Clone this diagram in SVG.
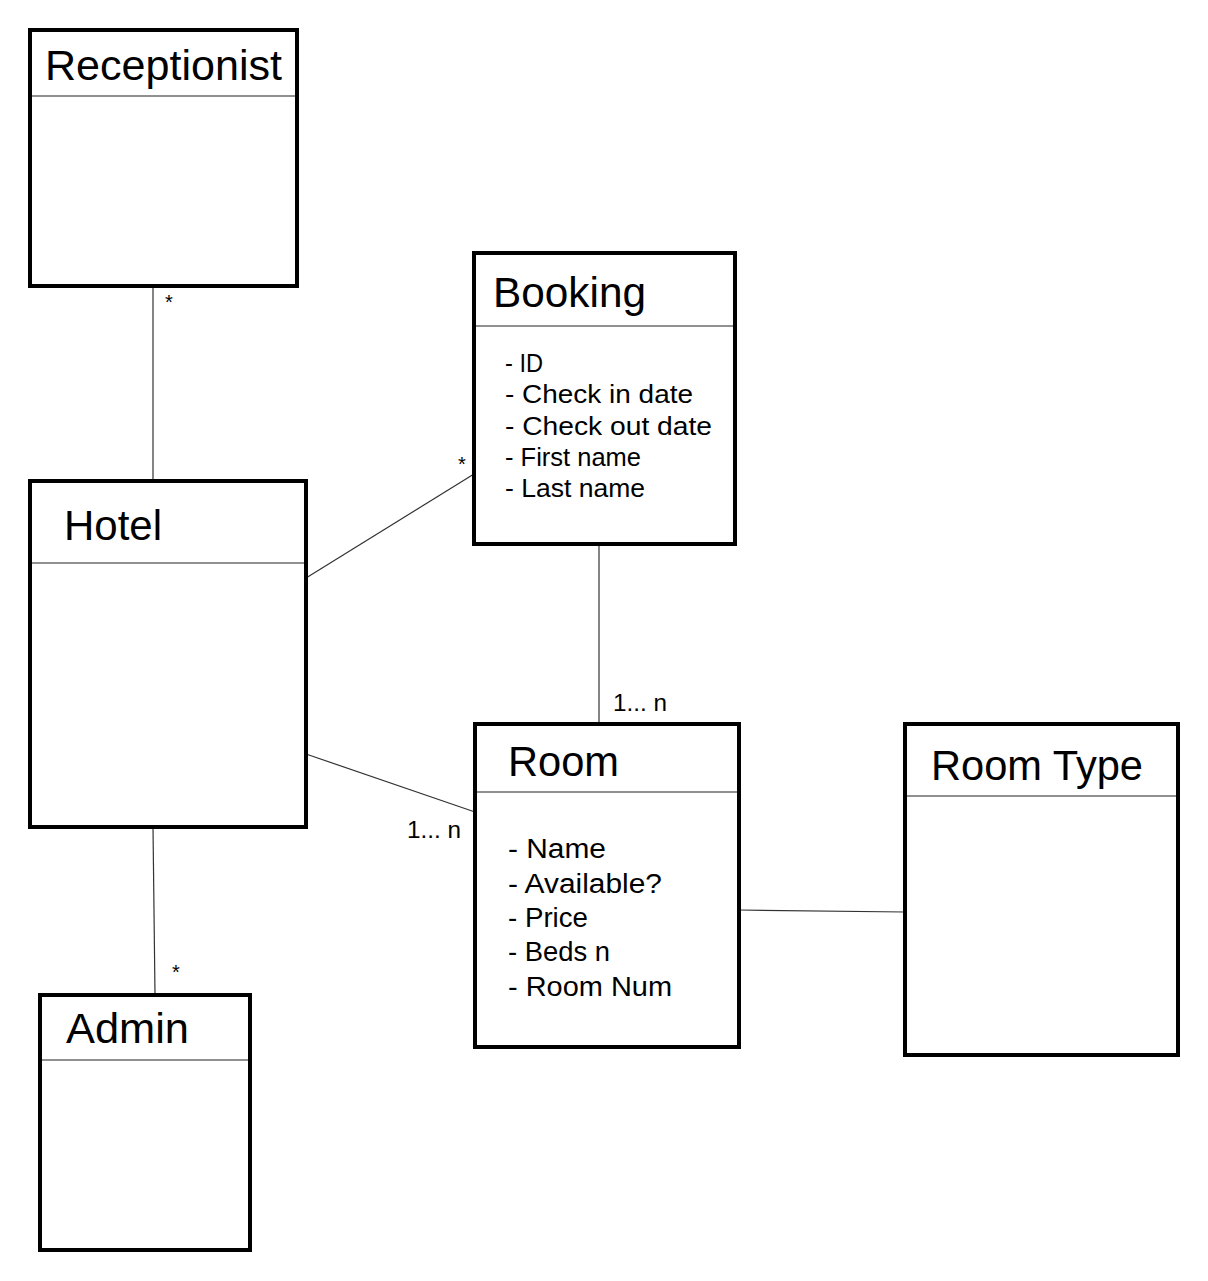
<svg xmlns="http://www.w3.org/2000/svg" width="1208" height="1281" viewBox="0 0 1208 1281">
<style>
.box{fill:#fff;stroke:#000;stroke-width:4}
.div{stroke:#222;stroke-width:1.2}
.con{stroke:#333;stroke-width:1.2;fill:none}
text{font-family:"Liberation Sans",Arial,sans-serif;fill:#000}
.title{font-size:43px}
.attr{font-size:25px}
.rattr{font-size:27px}
.mult{font-size:23px}
.star{font-size:20px}
</style>
<rect width="1208" height="1281" fill="#fff"/>
<g id="connectors">
<line class="con" x1="153" y1="286" x2="153" y2="481"/>
<line class="con" x1="306" y1="578" x2="474" y2="474"/>
<line class="con" x1="599" y1="544" x2="599" y2="724"/>
<line class="con" x1="306" y1="754" x2="475" y2="812"/>
<line class="con" x1="739" y1="910" x2="905" y2="912"/>
<line class="con" x1="153" y1="827" x2="155" y2="995"/>
<text class="star" x="165" y="309">*</text>
<text class="star" x="458" y="471">*</text>
<text class="mult" x="613" y="711" textLength="54" lengthAdjust="spacingAndGlyphs">1... n</text>
<text class="mult" x="407" y="838" textLength="54" lengthAdjust="spacingAndGlyphs">1... n</text>
<text class="star" x="172" y="979">*</text>
</g>
<g id="receptionist">
<rect class="box" x="30" y="30" width="267" height="256"/>
<line class="div" x1="32" y1="96" x2="295" y2="96"/>
<text class="title" x="45" y="80" textLength="237" lengthAdjust="spacingAndGlyphs">Receptionist</text>
</g>
<g id="booking">
<rect class="box" x="474" y="253" width="261" height="291"/>
<line class="div" x1="476" y1="326" x2="733" y2="326"/>
<text class="title" x="493" y="307" textLength="153" lengthAdjust="spacingAndGlyphs">Booking</text>
<text class="attr" x="505" y="372" textLength="38" lengthAdjust="spacingAndGlyphs">- ID</text>
<text class="attr" x="505" y="403" textLength="188" lengthAdjust="spacingAndGlyphs">- Check in date</text>
<text class="attr" x="505" y="435" textLength="207" lengthAdjust="spacingAndGlyphs">- Check out date</text>
<text class="attr" x="505" y="466" textLength="136" lengthAdjust="spacingAndGlyphs">- First name</text>
<text class="attr" x="505" y="497" textLength="140" lengthAdjust="spacingAndGlyphs">- Last name</text>
</g>
<g id="hotel">
<rect class="box" x="30" y="481" width="276" height="346"/>
<line class="div" x1="32" y1="563" x2="304" y2="563"/>
<text class="title" x="64" y="540" textLength="98" lengthAdjust="spacingAndGlyphs">Hotel</text>
</g>
<g id="room">
<rect class="box" x="475" y="724" width="264" height="323"/>
<line class="div" x1="477" y1="792" x2="737" y2="792"/>
<text class="title" x="508" y="776" textLength="111" lengthAdjust="spacingAndGlyphs">Room</text>
<text class="rattr" x="508" y="858" textLength="98" lengthAdjust="spacingAndGlyphs">- Name</text>
<text class="rattr" x="508" y="893" textLength="154" lengthAdjust="spacingAndGlyphs">- Available?</text>
<text class="rattr" x="508" y="927" textLength="80" lengthAdjust="spacingAndGlyphs">- Price</text>
<text class="rattr" x="508" y="961" textLength="102" lengthAdjust="spacingAndGlyphs">- Beds n</text>
<text class="rattr" x="508" y="996" textLength="164" lengthAdjust="spacingAndGlyphs">- Room Num</text>
</g>
<g id="roomtype">
<rect class="box" x="905" y="724" width="273" height="331"/>
<line class="div" x1="907" y1="796" x2="1176" y2="796"/>
<text class="title" x="931" y="780" textLength="212" lengthAdjust="spacingAndGlyphs">Room Type</text>
</g>
<g id="admin">
<rect class="box" x="40" y="995" width="210" height="255"/>
<line class="div" x1="42" y1="1060" x2="248" y2="1060"/>
<text class="title" x="66" y="1043" textLength="123" lengthAdjust="spacingAndGlyphs">Admin</text>
</g>
</svg>
